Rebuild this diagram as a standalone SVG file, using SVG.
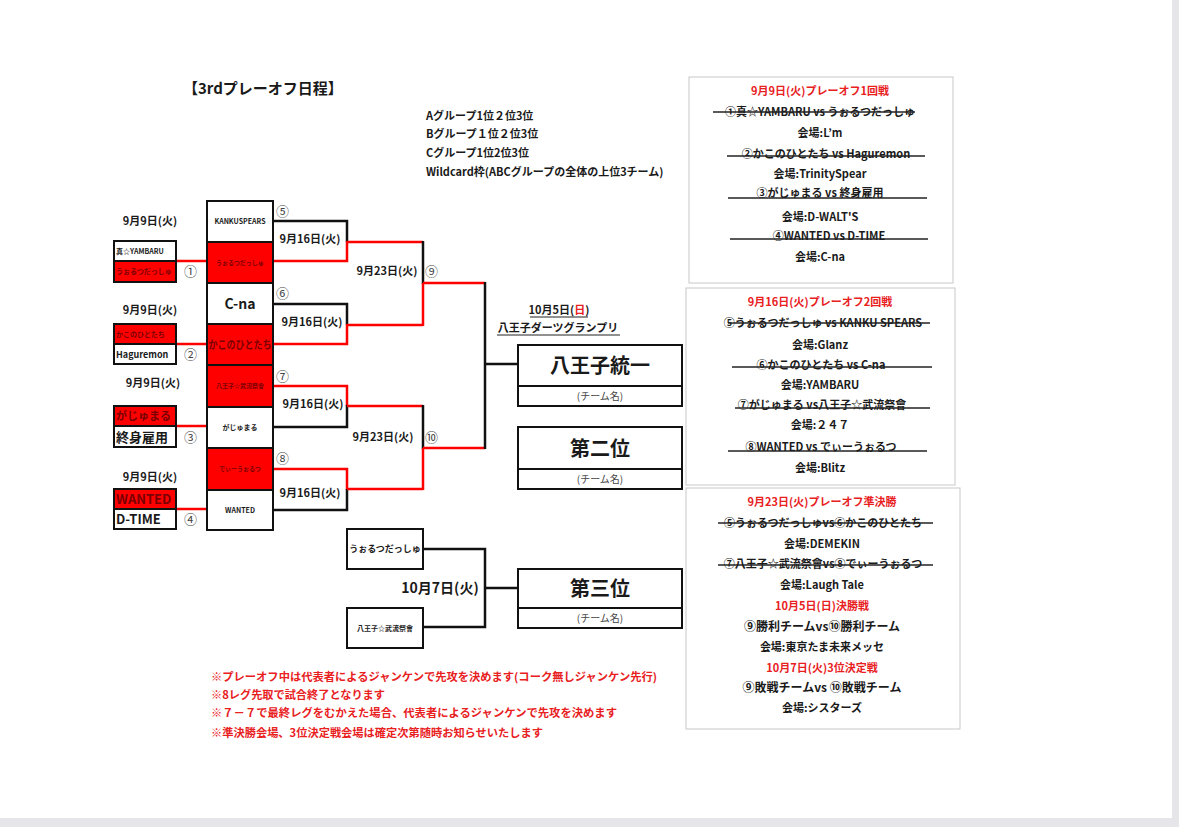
<svg xmlns="http://www.w3.org/2000/svg" width="1179" height="827" viewBox="0 0 1179 827">
<style>
text{font-family:"Noto Sans CJK JP","Noto Sans",sans-serif;font-weight:bold;fill:#1a1a1a}
.c{text-anchor:middle}
.rt{fill:#e8201e}
.dr{fill:#7a0000}
.n{font-weight:normal;fill:#444}
.box{stroke:#111;stroke-width:2}
.wb{fill:#fff}
.rb{fill:#ff0000}
.lk{stroke:#111;stroke-width:2.5;fill:none}
.lr{stroke:#ff0000;stroke-width:2.5;fill:none}
.st{stroke:#222;stroke-width:1.3}
.pn{fill:#fff;stroke:#c8c8c8;stroke-width:1}
</style>
<rect x="0" y="0" width="1179" height="827" fill="#e6e6ea"/>
<rect x="0" y="0" width="1172" height="818" fill="#fff"/>

<g id="title">
<text x="183" y="94" font-size="15">【3rdプレーオフ日程】</text>
<text x="426" y="120" font-size="11">Aグループ1位２位3位</text>
<text x="426" y="138" font-size="11">Bグループ１位２位3位</text>
<text x="426" y="157" font-size="11">Cグループ1位2位3位</text>
<text x="426" y="176" font-size="11">Wildcard枠(ABCグループの全体の上位3チーム)</text>
</g>

<g id="connectors">
<line class="lr" x1="176" y1="261" x2="207" y2="261"/>
<line class="lr" x1="176" y1="344" x2="207" y2="344"/>
<line class="lr" x1="176" y1="426" x2="207" y2="426"/>
<line class="lr" x1="176" y1="509" x2="207" y2="509"/>
<polyline class="lk" points="273,221 347,221 347,242"/>
<polyline class="lr" points="347,241 347,261 273,261"/>
<line class="lr" x1="347" y1="242" x2="423" y2="242"/>
<polyline class="lk" points="273,304 347,304 347,325"/>
<polyline class="lr" points="347,324 347,344 273,344"/>
<line class="lr" x1="347" y1="325" x2="423" y2="325"/>
<polyline class="lr" points="273,386 347,386 347,406"/>
<polyline class="lk" points="347,405 347,427 273,427"/>
<line class="lr" x1="347" y1="406" x2="423" y2="406"/>
<polyline class="lr" points="273,469 347,469 347,490"/>
<polyline class="lk" points="347,489 347,510 273,510"/>
<line class="lr" x1="347" y1="489" x2="423" y2="489"/>
<line class="lk" x1="423" y1="241" x2="423" y2="284"/>
<line class="lr" x1="423" y1="283" x2="423" y2="326"/>
<line class="lr" x1="423" y1="283" x2="485" y2="283"/>
<line class="lk" x1="423" y1="405" x2="423" y2="449"/>
<line class="lr" x1="423" y1="448" x2="423" y2="490"/>
<line class="lr" x1="423" y1="448" x2="485" y2="448"/>
<line class="lk" x1="485" y1="282" x2="485" y2="449"/>
<line class="lk" x1="485" y1="364" x2="518" y2="364"/>
<polyline class="lk" points="423,549 485,549 485,627 423,627"/>
<line class="lk" x1="485" y1="588" x2="518" y2="588"/>
</g>

<g id="round1">
<text class="c" x="150" y="225" font-size="11">9月9日(火)</text>
<text class="c" x="150" y="314" font-size="11">9月9日(火)</text>
<text class="c" x="153" y="387" font-size="11">9月9日(火)</text>
<text class="c" x="150" y="481" font-size="11">9月9日(火)</text>
</g>

<g id="m1">
<rect class="box wb" x="114" y="241" width="62" height="20"/>
<rect class="box rb" x="114" y="261" width="62" height="21"/>
<text x="116" y="254" font-size="7" font-weight="normal">真☆YAMBARU</text>
<text class="dr" x="116" y="274" font-size="7">うぉるつだっしゅ</text>
<text class="n" x="184" y="276" font-size="13">①</text>
</g>
<g id="m2">
<rect class="box rb" x="114" y="324" width="62" height="20"/>
<rect class="box wb" x="114" y="344" width="62" height="20"/>
<text class="dr" x="116" y="337" font-size="7">かこのひとたち</text>
<text x="116" y="358" font-size="9">Haguremon</text>
<text class="n" x="184" y="359" font-size="13">②</text>
</g>
<g id="m3">
<rect class="box rb" x="114" y="406" width="62" height="20"/>
<rect class="box wb" x="114" y="426" width="62" height="21"/>
<text class="dr" x="116" y="420" font-size="11">がじゅまる</text>
<text x="116" y="442" font-size="13">終身雇用</text>
<text class="n" x="184" y="442" font-size="13">③</text>
</g>
<g id="m4">
<rect class="box rb" x="114" y="489" width="62" height="20"/>
<rect class="box wb" x="114" y="509" width="62" height="20"/>
<text class="dr" x="116" y="504" font-size="13">WANTED</text>
<text x="116" y="524" font-size="13">D-TIME</text>
<text class="n" x="184" y="524" font-size="13">④</text>
</g>

<g id="round2">
<rect class="box wb" x="207" y="201" width="66" height="41"/>
<text class="c" x="240" y="224" font-size="7" font-weight="normal">KANKUSPEARS</text>
<rect class="box rb" x="207" y="242" width="66" height="41"/>
<text class="c dr" x="240" y="265" font-size="6">うぉるつだっしゅ</text>
<rect class="box wb" x="207" y="283" width="66" height="41"/>
<text class="c" x="240" y="309" font-size="14">C-na</text>
<rect class="box rb" x="207" y="324" width="66" height="41"/>
<text class="c dr" x="240" y="349" font-size="11" textLength="63" lengthAdjust="spacingAndGlyphs">かこのひとたち</text>
<rect class="box rb" x="207" y="365" width="66" height="42"/>
<text class="c dr" x="240" y="388" font-size="6">八王子☆武流祭會</text>
<rect class="box wb" x="207" y="407" width="66" height="41"/>
<text class="c" x="240" y="430" font-size="7">がじゅまる</text>
<rect class="box rb" x="207" y="448" width="66" height="42"/>
<text class="c dr" x="240" y="471" font-size="6">でぃーうぉるつ</text>
<rect class="box wb" x="207" y="490" width="66" height="40"/>
<text class="c" x="240" y="513" font-size="7" font-weight="normal">WANTED</text>
<text class="n" x="276" y="216" font-size="13">⑤</text>
<text class="n" x="276" y="298" font-size="13">⑥</text>
<text class="n" x="276" y="381" font-size="13">⑦</text>
<text class="n" x="276" y="463" font-size="13">⑧</text>
<text class="c" x="310" y="243" font-size="11">9月16日(火)</text>
<text class="c" x="312" y="326" font-size="11">9月16日(火)</text>
<text class="c" x="313" y="408" font-size="11">9月16日(火)</text>
<text class="c" x="310" y="497" font-size="11">9月16日(火)</text>
</g>

<g id="semis">
<text class="c" x="387" y="275" font-size="11">9月23日(火)</text>
<text class="c" x="383" y="441" font-size="11">9月23日(火)</text>
<text class="n" x="425" y="276" font-size="13">⑨</text>
<text class="n" x="425" y="442" font-size="13">⑩</text>
</g>

<g id="final">
<text class="c" x="559" y="314" font-size="11">10月5日(<tspan class="rt">日</tspan>)</text>
<text class="c" x="558" y="332" font-size="11">八王子ダーツグランプリ</text>
<line x1="530" y1="317" x2="588" y2="317" stroke="#222" stroke-width="1"/>
<line x1="497" y1="335" x2="620" y2="335" stroke="#222" stroke-width="1"/>
<rect class="box wb" x="518" y="345" width="164" height="41"/>
<rect class="box wb" x="518" y="386" width="164" height="20"/>
<text class="c" x="600" y="373" font-size="20">八王子統一</text>
<text class="c n" x="600" y="400" font-size="10">(チーム名)</text>
</g>

<g id="second">
<rect class="box wb" x="518" y="427" width="164" height="42"/>
<rect class="box wb" x="518" y="469" width="164" height="20"/>
<text class="c" x="600" y="456" font-size="20">第二位</text>
<text class="c n" x="600" y="483" font-size="10">(チーム名)</text>
</g>

<g id="thirdmatch">
<rect class="box wb" x="347" y="529" width="76" height="40"/>
<text class="c" x="385" y="552" font-size="9">うぉるつだっしゅ</text>
<rect class="box wb" x="347" y="608" width="76" height="40"/>
<text class="c" x="385" y="631" font-size="7">八王子☆武流祭會</text>
<text class="c" x="440" y="593" font-size="14">10月7日(火)</text>
</g>

<g id="third">
<rect class="box wb" x="518" y="569" width="164" height="39"/>
<rect class="box wb" x="518" y="608" width="164" height="20"/>
<text class="c" x="600" y="596" font-size="20">第三位</text>
<text class="c n" x="600" y="622" font-size="10">(チーム名)</text>
</g>

<g id="panel1">
<rect class="pn" x="689" y="77" width="264" height="206"/>
<text class="c rt" x="820" y="95" font-size="11">9月9日(火)プレーオフ1回戦</text>
<text class="c" x="820" y="116" font-size="11">①真☆YAMBARU vs うぉるつだっしゅ</text>
<line class="st" x1="713" y1="112" x2="915" y2="112"/>
<text class="c" x="820" y="137" font-size="11">会場:L’m</text>
<text class="c" x="826" y="158" font-size="11">②かこのひとたち vs Haguremon</text>
<line class="st" x1="727" y1="156" x2="925" y2="156"/>
<text class="c" x="820" y="178" font-size="11">会場:TrinitySpear</text>
<text class="c" x="820" y="197" font-size="11">③がじゅまる vs 終身雇用</text>
<line class="st" x1="728" y1="198" x2="927" y2="198"/>
<text class="c" x="820" y="221" font-size="11">会場:D-WALT'S</text>
<text class="c" x="829" y="240" font-size="11">④WANTED vs D-TIME</text>
<line class="st" x1="730" y1="239" x2="928" y2="239"/>
<text class="c" x="820" y="261" font-size="11">会場:C-na</text>
</g>

<g id="panel2">
<rect class="pn" x="686" y="288" width="269" height="197"/>
<text class="c rt" x="820" y="306" font-size="11">9月16日(火)プレーオフ2回戦</text>
<text class="c" x="823" y="327" font-size="11">⑤うぉるつだっしゅ vs KANKU SPEARS</text>
<line class="st" x1="728" y1="323" x2="930" y2="323"/>
<text class="c" x="820" y="349" font-size="11">会場:Glanz</text>
<text class="c" x="821" y="369" font-size="11">⑥かこのひとたち vs C-na</text>
<line class="st" x1="732" y1="367" x2="932" y2="367"/>
<text class="c" x="820" y="389" font-size="11">会場:YAMBARU</text>
<text class="c" x="822" y="409" font-size="11">⑦がじゅまる vs八王子☆武流祭會</text>
<line class="st" x1="735" y1="408" x2="930" y2="408"/>
<text class="c" x="820" y="429" font-size="11">会場:２４７</text>
<text class="c" x="821" y="451" font-size="11">⑧WANTED vs でぃーうぉるつ</text>
<line class="st" x1="728" y1="451" x2="927" y2="451"/>
<text class="c" x="820" y="472" font-size="11">会場:Blitz</text>
</g>

<g id="panel3">
<rect class="pn" x="686" y="488" width="274" height="241"/>
<text class="c rt" x="822" y="506" font-size="11">9月23日(火)プレーオフ準決勝</text>
<text class="c" x="823" y="527" font-size="11">⑤うぉるつだっしゅvs⑥かこのひとたち</text>
<line class="st" x1="718" y1="523" x2="933" y2="523"/>
<text class="c" x="822" y="548" font-size="11">会場:DEMEKIN</text>
<text class="c" x="823" y="568" font-size="11">⑦八王子☆武流祭會vs⑧でぃーうぉるつ</text>
<line class="st" x1="718" y1="565" x2="933" y2="565"/>
<text class="c" x="822" y="589" font-size="11">会場:Laugh Tale</text>
<text class="c rt" x="822" y="610" font-size="11">10月5日(日)決勝戦</text>
<text class="c" x="822" y="631" font-size="12">⑨勝利チームvs⑩勝利チーム</text>
<text class="c" x="822" y="651" font-size="11">会場:東京たま未来メッセ</text>
<text class="c rt" x="822" y="672" font-size="11">10月7日(火)3位決定戦</text>
<text class="c" x="822" y="692" font-size="12">⑨敗戦チームvs ⑩敗戦チーム</text>
<text class="c" x="822" y="712" font-size="11">会場:シスターズ</text>
</g>

<g id="notes">
<text class="rt" x="211" y="681" font-size="11" textLength="446" lengthAdjust="spacingAndGlyphs">※プレーオフ中は代表者によるジャンケンで先攻を決めます(コーク無しジャンケン先行)</text>
<text class="rt" x="211" y="699" font-size="11" textLength="174" lengthAdjust="spacingAndGlyphs">※8レグ先取で試合終了となります</text>
<text class="rt" x="211" y="717" font-size="11" textLength="406" lengthAdjust="spacingAndGlyphs">※７－７で最終レグをむかえた場合、代表者によるジャンケンで先攻を決めます</text>
<text class="rt" x="211" y="737" font-size="11" textLength="332" lengthAdjust="spacingAndGlyphs">※準決勝会場、3位決定戦会場は確定次第随時お知らせいたします</text>
</g>
</svg>
